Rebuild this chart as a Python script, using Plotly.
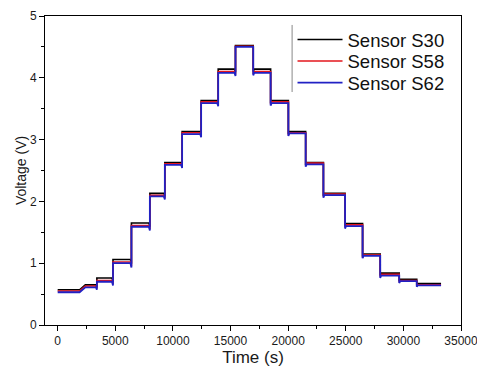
import plotly.graph_objects as go

# ---- data ----
step_start = [0, 2400, 3400, 4800, 6400, 8000, 9300, 10800, 12450, 13930, 15430,
              16970, 18480, 20020, 21520, 23060, 24940, 26460, 27990, 29640, 31160]
step_end = [1900, 3400, 4800, 6400, 8000, 9300, 10800, 12450, 13930, 15430, 16970,
            18480, 20020, 21520, 23060, 24940, 26460, 27990, 29640, 31160, 33270]

s30_levels = [0.57, 0.65, 0.76, 1.06, 1.65, 2.13, 2.63, 3.13, 3.63, 4.14, 4.52,
              4.14, 3.63, 3.13, 2.63, 2.13, 1.64, 1.15, 0.84, 0.74, 0.67]
s58_levels = [0.55, 0.63, 0.72, 1.02, 1.61, 2.10, 2.61, 3.11, 3.61, 4.10, 4.51,
              4.10, 3.61, 3.11, 2.62, 2.12, 1.62, 1.13, 0.82, 0.72, 0.65]
s62_levels = [0.53, 0.61, 0.70, 1.00, 1.59, 2.08, 2.59, 3.09, 3.59, 4.08, 4.50,
              4.08, 3.59, 3.10, 2.60, 2.10, 1.60, 1.12, 0.80, 0.71, 0.64]

# transient dip at each level change (V)
transition_dip = [0.0, 0.04, 0.06, 0.07, 0.06, 0.05, 0.05, 0.05, 0.05, 0.05,
                  0.04, 0.04, 0.04, 0.04, 0.04, 0.04, 0.04, 0.04, 0.03, 0.02]

series_names = ["Sensor S30", "Sensor S58", "Sensor S62"]
series_levels = [s30_levels, s58_levels, s62_levels]
series_colors = ["#000000", "#e3161c", "#2121c4"]
series_widths = [1.6, 1.6, 1.8]
legend_ids = ["legend", "legend2", "legend3"]

x_tick_vals = [0, 5000, 10000, 15000, 20000, 25000, 30000, 35000]
y_tick_vals = [0, 1, 2, 3, 4, 5]


def build_trace(levels):
    xs, ys = [], []
    n = len(levels)
    settle = 80
    for i in range(n):
        ts, te, lv = step_start[i], step_end[i], levels[i]
        if i > 0 and levels[i] < levels[i - 1] and transition_dip[i - 1] > 0:
            xs += [ts, ts + settle]
            ys += [lv - transition_dip[i - 1], lv]
        else:
            xs.append(ts)
            ys.append(lv)
        if i < n - 1 and levels[i + 1] > lv and transition_dip[i] > 0:
            xs += [te - settle, te]
            ys += [lv, lv - transition_dip[i]]
        else:
            xs.append(te)
            ys.append(lv)
    return xs, ys


fig = go.Figure()
for name, lv, col, w, lg in zip(series_names, series_levels, series_colors,
                                series_widths, legend_ids):
    xs, ys = build_trace(lv)
    fig.add_trace(go.Scatter(x=xs, y=ys, mode="lines", name=name, legend=lg,
                             line=dict(color=col, width=w)))

font_family = "Liberation Sans, Arial, sans-serif"
legend_font = dict(size=18.5, family=font_family, color="#111111")
legend_common = dict(xanchor="left", yanchor="middle", bgcolor="rgba(0,0,0,0)",
                     borderwidth=0, font=legend_font, itemwidth=45)
legend_x = 0.595
legend_rows_y = [(325 - 40) / 309, (325 - 61.5) / 309, (325 - 83) / 309]

# the page body adds an 8px offset; margins compensate for it
fig.update_layout(
    width=485, height=375,
    margin=dict(l=37, r=32, t=8, b=58, autoexpand=False),
    paper_bgcolor="white", plot_bgcolor="white",
    font=dict(family=font_family, color="#1a1a1a", size=12),
    showlegend=True,
    legend=dict(x=legend_x, y=legend_rows_y[0], **legend_common),
    legend2=dict(x=legend_x, y=legend_rows_y[1], **legend_common),
    legend3=dict(x=legend_x, y=legend_rows_y[2], **legend_common),
    shapes=[dict(type="line", xref="paper", yref="paper",
                 x0=0.594, x1=0.594, y0=0.754, y1=0.971,
                 line=dict(color="#888888", width=1))],
)

fig.update_xaxes(
    range=[-1100, 35000], tickvals=x_tick_vals, tickformat="d",
    ticks="outside", ticklen=5, tickwidth=1, tickcolor="black",
    minor=dict(dtick=2500, tick0=0, ticks="outside", ticklen=3, tickcolor="black"),
    showline=True, linecolor="black", linewidth=1, mirror=True,
    showgrid=False, zeroline=False, automargin=False,
    tickfont=dict(size=12),
    title=dict(text="Time (s)", font=dict(size=17), standoff=3),
)
fig.update_yaxes(
    range=[0, 5], tickvals=y_tick_vals,
    ticks="outside", ticklen=5, tickwidth=1, tickcolor="black",
    minor=dict(dtick=0.5, tick0=0, ticks="outside", ticklen=3, tickcolor="black"),
    showline=True, linecolor="black", linewidth=1, mirror=True,
    showgrid=False, zeroline=False, automargin=False,
    tickfont=dict(size=12),
    title=dict(text="Voltage (V)", font=dict(size=14), standoff=0),
)

fig.write_html("out.html")
